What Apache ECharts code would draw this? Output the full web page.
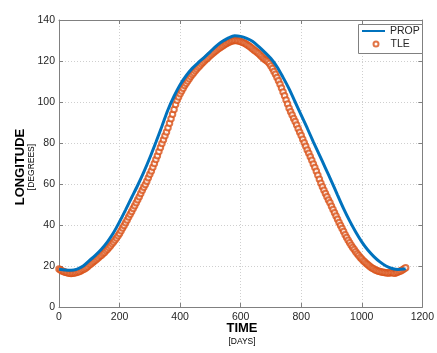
<!DOCTYPE html>
<html>
<head>
<meta charset="utf-8">
<script src="https://cdn.jsdelivr.net/npm/echarts@6/dist/echarts.min.js"></script>
<style>
html,body{margin:0;padding:0;background:#fff;}
#c{width:437px;height:353px;}
</style>
</head>
<body>
<div id="c"></div>
<script>
// ---- data ----
var propDays = [0,20,40,60,80,100,120,140,160,180,200,220,240,260,280,300,320,340,360,380,400,420,440,460,480,500,520,540,560,580,600,620,640,660,680,700,720,740,760,780,800,820,840,860,880,900,920,940,960,980,1000,1020,1040,1060,1080,1100,1120,1140,1145];
var propVals = [18.4,18.0,17.9,18.5,20.0,22.6,25.2,28.2,31.8,36.2,41.6,47.4,53.4,59.4,65.8,72.8,80.4,88.2,96.2,102.8,108.4,112.8,116.4,119.2,121.8,124.6,127.4,129.6,131.3,132.3,132.0,131.0,129.5,127.0,124.2,121.2,117.2,112.0,106.4,100.0,93.6,87.2,80.6,74.2,67.8,61.3,54.6,48.0,42.0,36.6,31.8,27.8,24.6,22.0,20.0,18.8,18.3,18.5,18.7];

var tleDays = [0,5,10,15,20,25,30,35,40,45,50,55,60,65,70,75,80,85,90,95,100,105,110,115,120,125,130,135,140,145,150,155,160,165,170,175,180,185,190,195,200,205,210,215,220,225,230,235,240,245,250,255,260,265,270,275,280,285,290,295,300,305,310,315,320,325,330,335,340,345,350,355,360,365,370,375,380,385,390,395,400,405,410,415,420,425,430,435,440,445,450,455,460,465,470,475,480,485,490,495,500,505,510,515,520,525,530,535,540,545,550,555,560,565,570,575,580,585,590,595,600,605,610,615,620,625,630,635,640,645,650,655,660,665,670,675,680,685,690,695,700,705,710,715,720,725,730,735,740,745,750,755,760,765,770,775,780,785,790,795,800,805,810,815,820,825,830,835,840,845,850,855,860,865,870,875,880,885,890,895,900,905,910,915,920,925,930,935,940,945,950,955,960,965,970,975,980,985,990,995,1000,1005,1010,1015,1020,1025,1030,1035,1040,1045,1050,1055,1060,1065,1070,1075,1080,1085,1090,1095,1100,1105,1110,1115,1120,1125,1130,1135,1140,1145];
var tleVals = [18.5,18.0,17.6,17.3,17.0,16.8,16.6,16.5,16.4,16.5,16.6,16.7,16.9,17.2,17.5,17.9,18.3,18.7,19.2,19.8,20.5,21.0,21.6,22.2,22.8,23.4,24.0,24.7,25.3,26.0,26.6,27.4,28.2,29.0,29.9,30.8,31.7,32.7,33.7,34.8,35.9,37.2,38.5,39.8,41.1,42.5,43.9,45.2,46.6,48.0,49.4,50.8,52.3,53.8,55.4,56.9,58.4,59.8,61.3,63.0,64.7,66.4,68.2,70.0,71.9,73.8,75.8,77.8,79.7,81.6,83.5,85.4,87.4,89.6,91.8,94.0,96.4,98.8,100.8,102.4,104.0,105.4,106.7,108.0,109.2,110.3,111.4,112.4,113.4,114.3,115.2,116.1,116.9,117.7,118.5,119.3,120.0,120.7,121.4,122.1,122.8,123.4,124.0,124.6,125.2,125.8,126.3,126.8,127.3,127.8,128.3,128.7,129.1,129.4,129.7,129.9,130.0,130.0,129.9,129.7,129.5,129.2,128.9,128.5,128.1,127.6,127.1,126.5,125.9,125.3,124.7,124.1,123.5,122.8,122.1,121.4,120.7,120.2,119.6,118.8,117.6,116.3,114.9,113.5,112.0,110.4,108.6,106.8,104.9,103.0,101.0,99.0,97.0,95.2,93.6,92.0,90.5,88.8,87.0,85.3,83.6,81.8,80.1,78.4,76.6,75.0,73.3,71.6,69.8,68.1,66.2,64.3,62.3,60.4,58.7,57.0,55.4,53.8,52.2,50.8,49.2,47.6,46.0,44.4,42.8,41.2,39.8,38.3,36.8,35.3,33.9,32.6,31.3,30.1,29.0,28.0,27.0,26.0,25.1,24.2,23.4,22.6,21.9,21.2,20.6,20.0,19.4,18.9,18.5,18.1,17.8,17.5,17.3,17.1,16.9,16.8,16.7,16.6,16.6,16.7,16.8,16.6,16.5,16.8,17.1,17.4,17.7,18.2,18.7,19.2];

var xTicks = [0,200,400,600,800,1000,1200];
var yTicks = [0,20,40,60,80,100,120,140];
var seriesNames = ['PROP','TLE'];
var axisTitles = {x: 'TIME', xUnit: '[DAYS]', y: 'LONGITUDE', yUnit: '[DEGREES]'};

function pairs(xs, ys){ var out=[]; for(var i=0;i<xs.length;i++) out.push([xs[i], ys[i]]); return out; }

var chart = echarts.init(document.getElementById('c'), null, {renderer:'canvas'});
var FONT = '"Liberation Sans", Arial, Helvetica, sans-serif';
var axisGray = '#808080';
var labelColor = '#262626';
var blue = '#0072BD', orange = '#D95319';

function axisCommon(extra){
  var base = {
    type: 'value',
    axisLine: {show: true, onZero: false, lineStyle: {color: axisGray, width: 1}},
    axisTick: {show: true, inside: true, length: 4, lineStyle: {color: axisGray}}
  };
  for (var k in extra) base[k] = extra[k];
  return base;
}

var option = {
  animation: false,
  backgroundColor: '#fff',
  grid: {left: 59, right: 11, top: 20, bottom: 46, containLabel: false},
  xAxis: [
    axisCommon({min: xTicks[0], max: xTicks[xTicks.length-1], interval: 200,
      axisLabel: {color: labelColor, fontSize: 10.5, fontFamily: FONT, margin: 5, formatter: function(v){return String(v);}},
      splitLine: {show: true, lineStyle: {color: '#cfcfcf', type: [1,2], width: 1}}}),
    axisCommon({position: 'top', min: xTicks[0], max: xTicks[xTicks.length-1], interval: 200,
      axisLabel: {show: false}, splitLine: {show: false}})
  ],
  yAxis: [
    axisCommon({min: yTicks[0], max: yTicks[yTicks.length-1], interval: 20,
      axisLabel: {color: labelColor, fontSize: 10.5, fontFamily: FONT, margin: 4},
      splitLine: {show: true, lineStyle: {color: '#cfcfcf', type: [1,2], width: 1}}}),
    axisCommon({position: 'right', min: yTicks[0], max: yTicks[yTicks.length-1], interval: 20,
      axisLabel: {show: false}, splitLine: {show: false}})
  ],
  legend: [{
    orient: 'vertical', left: 362, top: 25.5, padding: 0,
    itemWidth: 23, itemHeight: 2, icon: 'rect', z: 10,
    textStyle: {color: labelColor, fontSize: 10.5, fontFamily: FONT},
    data: [seriesNames[0]]
  },{
    orient: 'vertical', left: 372.5, top: 38.5, padding: 0,
    itemWidth: 5, itemHeight: 5, icon: 'emptyCircle', z: 10,
    textStyle: {color: labelColor, fontSize: 10.5, fontFamily: FONT, padding: [0,0,0,7]},
    data: [seriesNames[1]]
  }],
  series: [{
    name: seriesNames[0], type: 'line', data: pairs(propDays, propVals),
    smooth: 0.3, showSymbol: false, symbol: 'none',
    lineStyle: {color: blue, width: 3}, itemStyle: {color: blue}
  },{
    name: seriesNames[1], type: 'scatter', data: pairs(tleDays, tleVals),
    symbol: 'emptyCircle', symbolSize: 5.5,
    itemStyle: {color: orange, borderColor: orange, borderWidth: 1.4}
  }],
  graphic: [
    {type: 'rect', z: 5, shape: {x: 358.5, y: 24.5, width: 64, height: 29}, style: {fill: '#fff', stroke: axisGray, lineWidth: 1}},
    {type: 'text', style: {text: axisTitles.x, font: 'bold 13px ' + FONT, fill: '#000', textAlign: 'center'}, x: 242, y: 322},
    {type: 'text', style: {text: axisTitles.xUnit, font: '8.5px ' + FONT, fill: '#000', textAlign: 'center'}, x: 242, y: 337},
    {type: 'text', rotation: Math.PI/2, style: {text: axisTitles.y, font: 'bold 13px ' + FONT, fill: '#000', textAlign: 'center', textVerticalAlign: 'middle'}, x: 20, y: 167},
    {type: 'text', rotation: Math.PI/2, style: {text: axisTitles.yUnit, font: '8.5px ' + FONT, fill: '#000', textAlign: 'center', textVerticalAlign: 'middle'}, x: 32, y: 167}
  ]
};
chart.setOption(option);
</script>
</body>
</html>
